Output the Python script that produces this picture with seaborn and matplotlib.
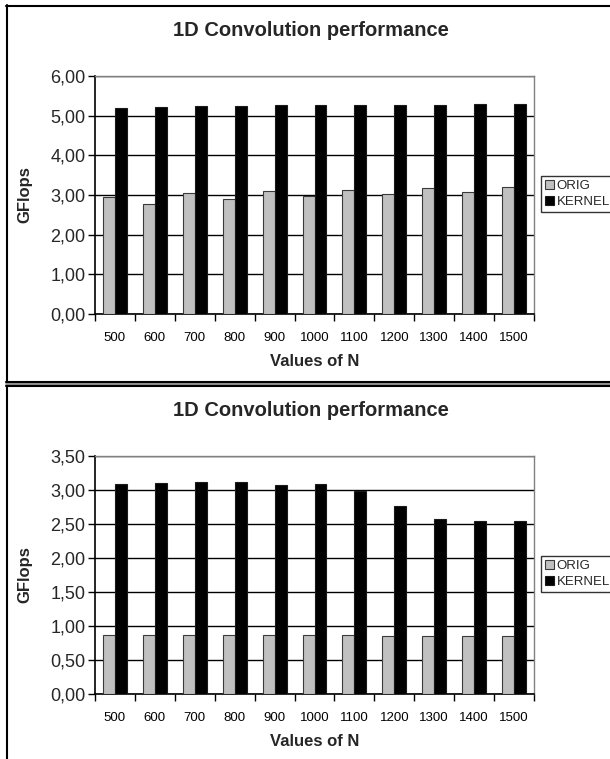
import matplotlib
matplotlib.use("Agg")
import matplotlib.pyplot as plt
from matplotlib.lines import Line2D
from matplotlib.ticker import FixedLocator, FuncFormatter
import pandas as pd
import seaborn as sns

# Problem sizes and measured throughput (GFlops)
n_values = ["500", "600", "700", "800", "900", "1000", "1100", "1200", "1300", "1400", "1500"]

run1_orig = [2.95, 2.77, 3.04, 2.89, 3.11, 2.98, 3.13, 3.03, 3.17, 3.07, 3.19]
run1_kernel = [5.20, 5.23, 5.24, 5.25, 5.27, 5.27, 5.27, 5.28, 5.28, 5.29, 5.30]

run2_orig = [0.87, 0.87, 0.87, 0.87, 0.87, 0.87, 0.87, 0.86, 0.85, 0.85, 0.85]
run2_kernel = [3.09, 3.11, 3.12, 3.12, 3.07, 3.09, 2.99, 2.77, 2.58, 2.55, 2.55]

series_names = ["ORIG", "KERNEL"]
y_ticks_run1 = [0, 1, 2, 3, 4, 5, 6]
y_ticks_run2 = [0, 0.5, 1.0, 1.5, 2.0, 2.5, 3.0, 3.5]

title_text = "1D Convolution performance"
x_label = "Values of N"
y_label = "GFlops"

sns.set_theme(style="white")
plt.rcParams["font.family"] = ["Liberation Sans", "DejaVu Sans"]

W, H = 610, 759
fig = plt.figure(figsize=(W / 100, H / 100), dpi=100)
fig.patch.set_facecolor("white")


def fx(px):
    return px / W


def fy(py):
    return 1 - py / H


def long_frame(orig, kernel):
    rows = []
    for n, o, k in zip(n_values, orig, kernel):
        rows.append({"N": n, "GFlops": o, "series": series_names[0]})
        rows.append({"N": n, "GFlops": k, "series": series_names[1]})
    return pd.DataFrame(rows)


palette = {"ORIG": "#c0c0c0", "KERNEL": "#000000"}
edges = {"ORIG": "#3a3a3a", "KERNEL": "#1a1a1a"}


def draw_panel(top_px, orig, kernel, yticks):
    left_px, right_px = 95, 534
    plot_h = 238
    ax = fig.add_axes([fx(left_px), fy(top_px + plot_h), fx(right_px - left_px), plot_h / H])
    df = long_frame(orig, kernel)
    sns.barplot(data=df, x="N", y="GFlops", hue="series", order=n_values,
                hue_order=series_names, palette=palette, width=0.6,
                saturation=1, errorbar=None, ax=ax, legend=False)
    for cont, name in zip(ax.containers, series_names):
        for p in cont:
            p.set_edgecolor(edges[name])
            p.set_linewidth(0.8)
            p.set_zorder(3)

    ax.set_xlim(-0.5, len(n_values) - 0.5)
    ax.set_ylim(yticks[0], yticks[-1])
    ax.set_yticks(yticks)
    ax.yaxis.set_major_formatter(FuncFormatter(lambda v, _: f"{v:.2f}".replace(".", ",")))
    ax.grid(axis="y", color="black", linewidth=1.0, zorder=1)
    ax.set_axisbelow(True)

    ax.xaxis.set_minor_locator(FixedLocator([i - 0.5 for i in range(len(n_values) + 1)]))
    ax.tick_params(axis="x", which="major", length=0, pad=13, labelsize=9.5, colors="black")
    ax.tick_params(axis="x", which="minor", length=5, width=1, direction="out",
                   color="black", bottom=True)
    ax.tick_params(axis="y", which="major", length=5, width=1, direction="out",
                   color="black", left=True, pad=2, labelsize=13)

    for side in ("left", "bottom"):
        ax.spines[side].set_color("black")
        ax.spines[side].set_linewidth(1.2)
    for side in ("top", "right"):
        ax.spines[side].set_color("#808080")
        ax.spines[side].set_linewidth(1.0)

    ax.set_xlabel(x_label, fontsize=12, fontweight="bold", labelpad=7)
    ax.set_ylabel(y_label, fontsize=12, fontweight="bold", labelpad=13)

    fig.text(fx(311), fy(top_px - 45), title_text, ha="center", va="center",
             fontsize=14.5, fontweight="bold")

    handles = [
        plt.Rectangle((0, 0), 1, 1, facecolor=palette[s], edgecolor=edges[s], linewidth=0.8)
        for s in series_names
    ]
    leg = ax.legend(handles, series_names, loc="upper left",
                    bbox_to_anchor=(fx(541), fy(top_px + 100)),
                    bbox_transform=fig.transFigure, frameon=True, fancybox=False,
                    fontsize=9.5, handlelength=0.7, handleheight=0.7,
                    handletextpad=0.2, borderpad=0.3, labelspacing=0.3,
                    borderaxespad=0)
    leg.get_frame().set_edgecolor("black")
    leg.get_frame().set_linewidth(1.0)
    return ax


draw_panel(76, run1_orig, run1_kernel, y_ticks_run1)
draw_panel(456, run2_orig, run2_kernel, y_ticks_run2)


# Panel frames
def hline(y, x0, x1, color="black", lw=1.5):
    fig.add_artist(Line2D([fx(x0), fx(x1)], [fy(y), fy(y)], color=color, linewidth=lw,
                          transform=fig.transFigure))


def vline(x, y0, y1, color="black", lw=1.5):
    fig.add_artist(Line2D([fx(x), fx(x)], [fy(y0), fy(y1)], color=color, linewidth=lw,
                          transform=fig.transFigure))


hline(5.5, 6, W)
vline(6.5, 5, 382)
hline(382, 6, W)
hline(384.3, 6, W, color="#7a7a7a", lw=1.2)
hline(386, 6, W)
vline(6.5, 386, H)

fig.savefig("out.png", dpi=100, facecolor="white")
